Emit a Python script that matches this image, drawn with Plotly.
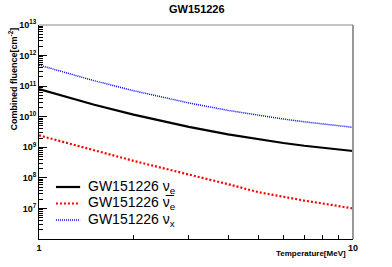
import plotly.graph_objects as go

temperature = [1, 1.5, 2, 2.5, 3, 4, 5, 6, 7, 8, 9, 10]
nu_e = [8.05e10, 2.46e10, 1.17e10, 6.9e9, 4.65e9, 2.65e9, 1.82e9, 1.38e9, 1.12e9, 9.5e8, 8.4e8, 7.55e8]
nu_e_bar = [2.45e9, 7.8e8, 3.6e8, 2.04e8, 1.30e8, 6.2e7, 3.4e7, 2.35e7, 1.8e7, 1.45e7, 1.2e7, 1.0e7]
nu_x = [4.9e11, 1.5e11, 7.1e10, 4.19e10, 2.82e10, 1.61e10, 1.11e10, 8.4e9, 6.8e9, 5.8e9, 5.1e9, 4.5e9]

series_names = ["GW151226 \u03bd<sub>e</sub>", "GW151226 \u03bd\u0305<sub>e</sub>", "GW151226 \u03bd<sub>x</sub>"]
y_tick_vals = [1e7, 1e8, 1e9, 1e10, 1e11, 1e12, 1e13]
y_tick_text = ["<b>10<sup>7</sup></b>", "<b>10<sup>8</sup></b>", "<b>10<sup>9</sup></b>",
               "<b>10<sup>10</sup></b>", "<b>10<sup>11</sup></b>", "<b>10<sup>12</sup></b>",
               "<b>10<sup>13</sup></b>"]
x_tick_vals = [1, 10]
x_tick_text = ["<b>1</b>", "<b>10</b>"]

FONT = "Liberation Sans, Arial, Helvetica, sans-serif"
styles = [dict(color="black", width=2.2),
          dict(color="#ff0000", width=2.2, dash="2px,2px"),
          dict(color="#0000ff", width=1.5, dash="1px,1px")]

fig = go.Figure()
for vals, name, st in zip([nu_e, nu_e_bar, nu_x], series_names, styles):
    fig.add_trace(go.Scatter(x=temperature, y=vals, mode="lines", name=name,
                             line=st, showlegend=False, hoverinfo="skip"))

fig.update_layout(
    width=392, height=267,
    margin=dict(l=39, r=39, t=25, b=28),
    paper_bgcolor="white", plot_bgcolor="white",
    font=dict(family=FONT, color="black"),
    title=dict(text="<b>GW151226</b>", x=0.502, xanchor="center", y=0.966, yanchor="middle",
               font=dict(size=11, family=FONT)),
    xaxis=dict(type="log", range=[0, 1], showgrid=False, zeroline=False,
               showline=True, linecolor="black", linewidth=1,
               ticks="inside", ticklen=8, tickcolor="black",
               tickvals=x_tick_vals, ticktext=x_tick_text, tickfont=dict(size=9),
               minor=dict(ticks="inside", ticklen=4, tickcolor="black", dtick="D1", showgrid=False)),
    yaxis=dict(type="log", range=[6, 13], showgrid=False, zeroline=False,
               showline=True, linecolor="black", linewidth=1,
               ticks="inside", ticklen=8, tickcolor="black",
               tickvals=y_tick_vals, ticktext=y_tick_text, tickfont=dict(size=9),
               minor=dict(ticks="inside", ticklen=4, tickcolor="black", dtick="D1", showgrid=False)),
)

# frame top and right
fig.add_shape(type="line", xref="paper", yref="paper", x0=0, x1=1, y0=1, y1=1,
              line=dict(color="#888888", width=1))
fig.add_shape(type="line", xref="paper", yref="paper", x0=1, x1=1, y0=0, y1=1,
              line=dict(color="#999999", width=2))

# legend (manual, ROOT-like)
legend_rows = [0.243, 0.166, 0.089]
for name, st, yy in zip(series_names, styles, legend_rows):
    fig.add_shape(type="line", xref="paper", yref="paper", x0=0.054, x1=0.131, y0=yy, y1=yy,
                  line=st)
    fig.add_annotation(text=name, xref="paper", yref="paper", x=0.150, y=yy,
                       xanchor="left", yanchor="middle", showarrow=False,
                       font=dict(size=14, family=FONT))

fig.add_annotation(text="<b>Combined fluence[cm<sup>-2</sup>]</b>", textangle=-90,
                   xref="paper", yref="paper", x=-0.083, y=1.0, xanchor="center", yanchor="top",
                   showarrow=False, font=dict(size=9, family=FONT))
fig.add_annotation(text="<b>Temperature[MeV]</b>", xref="paper", yref="paper",
                   x=0.985, y=-0.07, xanchor="right", yanchor="middle",
                   showarrow=False, font=dict(size=8, family=FONT))

fig.write_html("out.html", config={"displayModeBar": False, "staticPlot": True},
               post_script="document.body.style.margin='0';document.body.style.padding='0';")
